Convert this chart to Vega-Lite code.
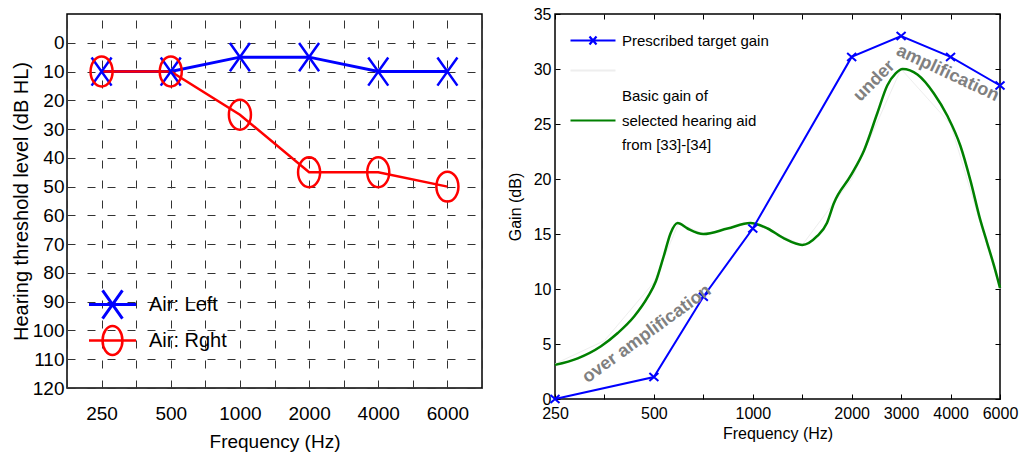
{
  "$schema": "https://vega.github.io/schema/vega-lite/v6.json",
  "padding": {"left": 10, "top": 5, "right": 5, "bottom": 5},
  "spacing": 73,
  "bounds": "flush",
  "resolve": {
    "scale": {"color": "independent", "shape": "independent", "strokeWidth": "independent", "x": "independent", "y": "independent"},
    "legend": {"color": "independent", "shape": "independent", "strokeWidth": "independent"}
  },
  "datasets": {
    "audiogram": [
      {"idx": 0, "freq": "250", "series": "Air: Left", "level": 10},
      {"idx": 1, "freq": "500", "series": "Air: Left", "level": 10},
      {"idx": 2, "freq": "1000", "series": "Air: Left", "level": 5},
      {"idx": 3, "freq": "2000", "series": "Air: Left", "level": 5},
      {"idx": 4, "freq": "4000", "series": "Air: Left", "level": 10},
      {"idx": 5, "freq": "6000", "series": "Air: Left", "level": 10},
      {"idx": 0, "freq": "250", "series": "Air: Rght", "level": 10},
      {"idx": 1, "freq": "500", "series": "Air: Rght", "level": 10},
      {"idx": 2, "freq": "1000", "series": "Air: Rght", "level": 25},
      {"idx": 3, "freq": "2000", "series": "Air: Rght", "level": 45},
      {"idx": 4, "freq": "4000", "series": "Air: Rght", "level": 45},
      {"idx": 5, "freq": "6000", "series": "Air: Rght", "level": 50}
    ],
    "target": [
      {"idx": 0, "freq": "250", "gain": 0},
      {"idx": 2, "freq": "500", "gain": 2},
      {"idx": 3, "freq": "750", "gain": 9.3},
      {"idx": 4, "freq": "1000", "gain": 15.5},
      {"idx": 6, "freq": "2000", "gain": 31.1},
      {"idx": 7, "freq": "3000", "gain": 33},
      {"idx": 8, "freq": "4000", "gain": 31.1},
      {"idx": 9, "freq": "6000", "gain": 28.5}
    ],
    "basic": [
      {"idx": 0, "gain": 3.1}, {"idx": 0.46, "gain": 3.7}, {"idx": 0.93, "gain": 4.8},
      {"idx": 1.27, "gain": 6}, {"idx": 1.6, "gain": 7.5}, {"idx": 1.88, "gain": 9.3},
      {"idx": 2.04, "gain": 10.7}, {"idx": 2.2, "gain": 13}, {"idx": 2.34, "gain": 15.1},
      {"idx": 2.48, "gain": 16}, {"idx": 2.68, "gain": 15.5}, {"idx": 3.0, "gain": 15},
      {"idx": 3.49, "gain": 15.5}, {"idx": 3.95, "gain": 16}, {"idx": 4.3, "gain": 15.5},
      {"idx": 4.63, "gain": 14.6}, {"idx": 5.0, "gain": 14}, {"idx": 5.3, "gain": 14.8},
      {"idx": 5.5, "gain": 16}, {"idx": 5.64, "gain": 17.8}, {"idx": 5.98, "gain": 20.3},
      {"idx": 6.25, "gain": 22.6}, {"idx": 6.52, "gain": 26}, {"idx": 6.72, "gain": 28.5},
      {"idx": 6.89, "gain": 29.6}, {"idx": 7.03, "gain": 30}, {"idx": 7.33, "gain": 29.5},
      {"idx": 7.66, "gain": 27.8}, {"idx": 7.94, "gain": 25.7}, {"idx": 8.2, "gain": 23},
      {"idx": 8.4, "gain": 19.9}, {"idx": 8.6, "gain": 16.3}, {"idx": 8.74, "gain": 14.2},
      {"idx": 8.88, "gain": 12.1}, {"idx": 9, "gain": 10.1}
    ],
    "faint": [
      {"idx": 0, "gain": 3.2}, {"idx": 1, "gain": 5.3}, {"idx": 2, "gain": 10.6},
      {"idx": 2.5, "gain": 16}, {"idx": 3, "gain": 15}, {"idx": 4, "gain": 16},
      {"idx": 5, "gain": 14}, {"idx": 6, "gain": 20}, {"idx": 7, "gain": 30},
      {"idx": 8, "gain": 25}, {"idx": 9, "gain": 10}
    ],
    "annot": [
      {"text": "over amplification", "idx": 1.86, "gain": 5.9},
      {"text": "under", "idx": 6.46, "gain": 28.9},
      {"text": "amplification", "idx": 7.94, "gain": 29.6}
    ]
  },
  "hconcat": [
    {
      "width": 415,
      "height": 374,
      "data": {"name": "audiogram"},
      "encoding": {
        "x": {
          "field": "idx", "type": "quantitative",
          "scale": {"domain": [-0.5, 5.5], "nice": false, "zero": false},
          "axis": {
            "values": [-0.5, 0, 0.5, 1, 1.5, 2, 2.5, 3, 3.5, 4, 4.5, 5, 5.5],
            "labelExpr": "datum.value % 1 === 0 ? ['250','500','1000','2000','4000','6000'][datum.value] : ''",
            "ticks": false, "grid": true, "gridDash": [8, 12], "gridColor": "#333", "gridOpacity": 1,
            "labelFontSize": 19, "labelPadding": 16,
            "labelFlush": false, "labelOverlap": false,
            "title": "Frequency (Hz)", "titleFontSize": 19, "titlePadding": 9
          }
        },
        "y": {
          "field": "level", "type": "quantitative",
          "scale": {"domain": [-10, 120], "reverse": true, "nice": false, "zero": false},
          "axis": {
            "values": [0, 10, 20, 30, 40, 50, 60, 70, 80, 90, 100, 110, 120],
            "ticks": false, "grid": true, "gridDash": [8, 12], "gridColor": "#333", "gridOpacity": 1,
            "labelFontSize": 19, "labelPadding": 3,
            "labelFlush": false, "labelOverlap": false,
            "title": "Hearing threshold level (dB HL)", "titleFontSize": 20, "titlePadding": 1
          }
        }
      },
      "layer": [
        {
          "mark": {"type": "line"},
          "encoding": {
            "color": {
              "field": "series", "type": "nominal",
              "scale": {"domain": ["Air: Left", "Air: Rght"], "range": ["#0000ff", "#ff0000"]},
              "legend": {
                "title": null, "orient": "none", "legendX": 32, "legendY": 277, "padding": 0,
                "symbolSize": 576, "symbolStrokeWidth": 2.5,
                "labelFontSize": 20, "labelOffset": 23, "rowPadding": -4, "labelColor": "#000", "labelLimit": 300,
                "encode": {
                  "symbols": {
                    "update": {
                      "shape": {"signal": "datum.value === 'Air: Left' ? 'M-1.96,0L1.96,0M-0.83,-1.17L0.83,1.17M-0.83,1.17L0.83,-1.17' : 'M-1.96,0L1.96,0M0.83,0C0.83,0.663 0.458,1.2 0,1.2C-0.458,1.2 -0.83,0.663 -0.83,0C-0.83,-0.663 -0.458,-1.2 0,-1.2C0.458,-1.2 0.83,-0.663 0.83,0Z'"},
                      "fill": {"value": "transparent"},
                      "opacity": {"value": 1}
                    }
                  }
                }
              }
            },
            "strokeWidth": {
              "field": "series", "type": "nominal",
              "scale": {"domain": ["Air: Left", "Air: Rght"], "range": [3, 2.5]},
              "legend": null
            }
          }
        },
        {
          "transform": [{"filter": "datum.series === 'Air: Left'"}],
          "mark": {
            "type": "point", "filled": false, "strokeWidth": 2.5, "size": 841, "opacity": 1, "color": "#0000ff",
            "shape": "M-0.69,-0.97L0.69,0.97M-0.69,0.97L0.69,-0.97"
          },
          "encoding": {}
        },
        {
          "transform": [{"filter": "datum.series === 'Air: Rght'"}],
          "mark": {
            "type": "point", "filled": false, "strokeWidth": 2.5, "size": 841, "opacity": 1, "color": "#ff0000",
            "shape": "M0.76,0C0.76,0.569 0.42,1.03 0,1.03C-0.42,1.03 -0.76,0.569 -0.76,0C-0.76,-0.569 -0.42,-1.03 0,-1.03C0.42,-1.03 0.76,-0.569 0.76,0Z"
          },
          "encoding": {}
        }
      ]
    },
    {
      "width": 445,
      "height": 385,
      "encoding": {
        "x": {"field": "idx", "type": "quantitative", "scale": {"domain": [0, 9], "nice": false, "zero": false}},
        "y": {"field": "gain", "type": "quantitative", "scale": {"domain": [0, 35], "nice": false, "zero": false}}
      },
      "resolve": {"axis": {"x": "independent", "y": "independent"}},
      "layer": [
        {
          "data": {"name": "faint"},
          "mark": {"type": "line", "strokeWidth": 1},
          "encoding": {
            "x": {
              "field": "idx", "type": "quantitative",
              "axis": {
                "orient": "bottom", "values": [0, 1, 2, 3, 4, 5, 6, 7, 8, 9],
                "labelExpr": "['250','','500','','1000','','2000','3000','4000','6000'][datum.value]",
                "tickSize": -5, "tickColor": "#000", "labelPadding": 11, "labelFontSize": 16,
                "labelFlush": false, "labelOverlap": false, "grid": false,
                "title": "Frequency (Hz)", "titleFontSize": 16, "titlePadding": 4
              }
            },
            "y": {
              "field": "gain", "type": "quantitative",
              "axis": {
                "orient": "left", "values": [0, 5, 10, 15, 20, 25, 30, 35],
                "tickSize": -5, "tickColor": "#000", "labelPadding": 9, "labelFontSize": 16,
                "labelFlush": false, "labelOverlap": false, "grid": false,
                "title": "Gain (dB)", "titleFontSize": 16, "titlePadding": 10
              }
            },
            "color": {
              "datum": "faint",
              "scale": {"domain": ["target", "faint", "basic"], "range": ["#0000ff", "#eeeeee", "#008000"]},
              "legend": {
                "title": null, "orient": "none", "legendX": 26.5, "legendY": 15, "padding": 0,
                "symbolSize": 400, "symbolStrokeWidth": 2.2,
                "labelFontSize": 15, "labelOffset": 17.5, "rowPadding": 10, "labelColor": "#000", "labelLimit": 400,
                "labelExpr": "datum.value === 'basic' ? [' Basic gain of', 'selected hearing aid', 'from [33]-[34]'] : datum.value === 'target' ? 'Prescribed target gain' : ''",
                "encode": {
                  "symbols": {
                    "update": {
                      "shape": {"signal": "datum.value === 'target' ? 'M-2.25,0L2.25,0M-0.35,-0.4L0.35,0.4M-0.35,0.4L0.35,-0.4' : 'M-2.25,0L2.25,0'"},
                      "fill": {"value": "transparent"},
                      "opacity": {"value": 1}
                    }
                  },
                  "labels": {
                    "update": {
                      "lineHeight": {"value": 24.5},
                      "dy": {"signal": "datum.value === 'basic' ? -24.5 : 0"}
                    }
                  }
                }
              }
            }
          }
        },
        {
          "data": {"name": "basic"},
          "mark": {"type": "line", "strokeWidth": 2.5, "interpolate": "monotone"},
          "encoding": {
            "x": {
              "field": "idx", "type": "quantitative",
              "axis": {
                "orient": "top", "values": [0, 1, 2, 3, 4, 5, 6, 7, 8, 9],
                "tickSize": -5, "tickColor": "#000", "labels": false, "grid": false, "title": null
              }
            },
            "y": {
              "field": "gain", "type": "quantitative",
              "axis": {
                "orient": "right", "values": [0, 5, 10, 15, 20, 25, 30, 35],
                "tickSize": -5, "tickColor": "#000", "labels": false, "grid": false, "title": null
              }
            },
            "color": {"datum": "basic"}
          }
        },
        {
          "data": {"name": "target"},
          "mark": {"type": "line", "strokeWidth": 2},
          "encoding": {
            "x": {"field": "idx", "type": "quantitative", "axis": null},
            "y": {"field": "gain", "type": "quantitative", "axis": null},
            "color": {"datum": "target"}
          }
        },
        {
          "data": {"name": "target"},
          "mark": {
            "type": "point", "filled": false, "strokeWidth": 2, "size": 100, "opacity": 1, "color": "#0000ff",
            "shape": "M-0.9,-0.8L0.9,0.8M-0.9,0.8L0.9,-0.8"
          },
          "encoding": {
            "x": {"field": "idx", "type": "quantitative", "axis": null},
            "y": {"field": "gain", "type": "quantitative", "axis": null}
          }
        },
        {
          "data": {"name": "annot"},
          "transform": [{"filter": "datum.text === 'over amplification'"}],
          "mark": {"type": "text", "angle": -36, "fontSize": 18, "fontWeight": "bold", "color": "#808080", "align": "center", "baseline": "middle"},
          "encoding": {
            "x": {"field": "idx", "type": "quantitative", "axis": null},
            "y": {"field": "gain", "type": "quantitative", "axis": null},
            "text": {"field": "text"}
          }
        },
        {
          "data": {"name": "annot"},
          "transform": [{"filter": "datum.text === 'under'"}],
          "mark": {"type": "text", "angle": -45, "fontSize": 18, "fontWeight": "bold", "color": "#808080", "align": "center", "baseline": "middle"},
          "encoding": {
            "x": {"field": "idx", "type": "quantitative", "axis": null},
            "y": {"field": "gain", "type": "quantitative", "axis": null},
            "text": {"field": "text"}
          }
        },
        {
          "data": {"name": "annot"},
          "transform": [{"filter": "datum.text === 'amplification'"}],
          "mark": {"type": "text", "angle": 25, "fontSize": 18, "fontWeight": "bold", "color": "#808080", "align": "center", "baseline": "middle"},
          "encoding": {
            "x": {"field": "idx", "type": "quantitative", "axis": null},
            "y": {"field": "gain", "type": "quantitative", "axis": null},
            "text": {"field": "text"}
          }
        }
      ]
    }
  ],
  "config": {
    "background": "white",
    "font": "Liberation Sans",
    "view": {"stroke": "#000", "strokeWidth": 1.5},
    "axis": {"domain": false, "labelColor": "#000", "titleColor": "#000", "titleFontWeight": "normal", "labelFont": "Liberation Sans", "titleFont": "Liberation Sans"},
    "legend": {"labelColor": "#000", "labelFont": "Liberation Sans"}
  }
}
